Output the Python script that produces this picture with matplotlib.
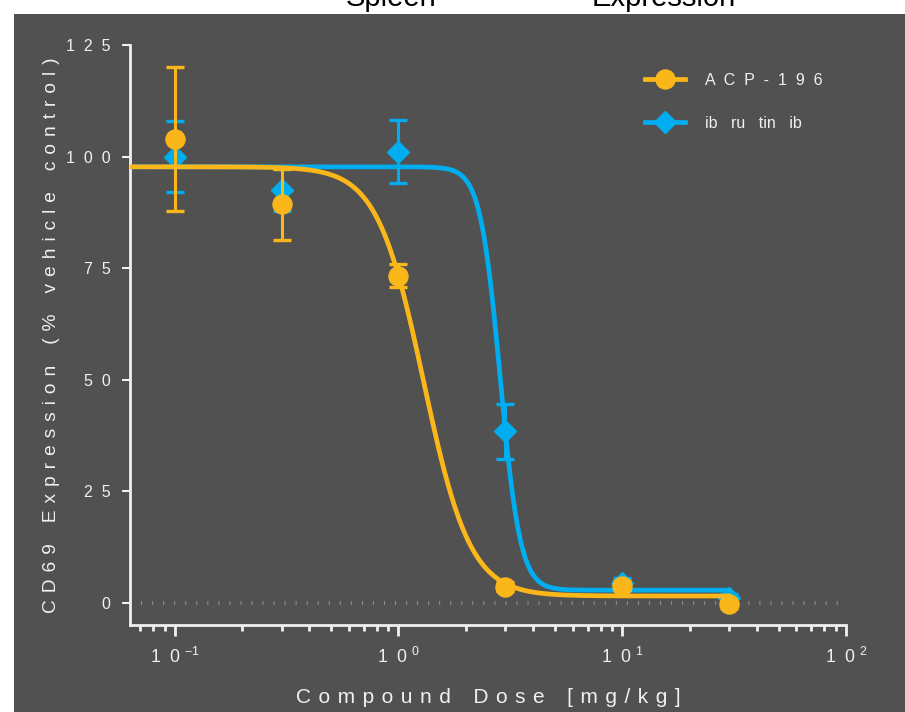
import numpy as np
import matplotlib.pyplot as plt
from matplotlib.lines import Line2D
from matplotlib.patches import Rectangle
from matplotlib.ticker import FixedLocator, FixedFormatter, NullFormatter

plt.rcParams['font.family'] = ['Liberation Sans', 'DejaVu Sans']
plt.rcParams['mathtext.fontset'] = 'custom'
plt.rcParams['mathtext.rm'] = 'Liberation Sans'
plt.rcParams['mathtext.it'] = 'Liberation Sans'

# dose groups (mg/kg) and CD69 readout, mean +/- sem
doses = [0.1, 0.3, 1, 3, 10, 30]
acp_mean = [103.9, 89.3, 73.3, 3.6, 3.8, -0.4]
acp_err = [16.2, 8.0, 2.6, 1.0, 1.0, 0.8]
ibr_mean = [100.0, 92.4, 101.1, 38.4, 4.5, 1.0]
ibr_err = [8.0, 4.7, 7.0, 6.2, 1.0, 1.0]

# 4PL fit parameters: top, bottom, EC50, hill slope
acp_fit = [97.7, 1.5, 1.295, 4.17]
ibr_fit = [97.7, 2.8, 2.85, 9.7]

series_names = ['ACP-196', 'ibrutinib']
y_ticks = [0, 25, 50, 75, 100, 125]
x_decades = [0.1, 1, 10, 100]
x_tick_labels = ['1  0 $^{-1}$', '1  0 $^{0}$', '1  0 $^{1}$', '1  0 $^{2}$']

ORANGE = '#FBB61A'
BLUE = '#00AEEF'
PANEL = '#515151'
TEXT = '#f0f0f0'
XMIN, XMAX = 0.0631, 100


def four_pl(x, top, bottom, ec50, hill):
    return bottom + (top - bottom) / (1 + (x / ec50) ** hill)


def spaced(text, gap=' \u200a'):
    words = text.split(' ')
    return (gap * 3).join(gap.join(w) for w in words)


fig = plt.figure(figsize=(9.05, 7.12), dpi=100)
fig.text(391 / 905, 1 - 6 / 712, 'Spleen', ha='center', va='baseline',
         fontsize=21, color='black', zorder=-1)
fig.text(664 / 905, 1 - 6 / 712, 'Expression', ha='center', va='baseline',
         fontsize=21, color='black', zorder=-1)
fig.add_artist(Rectangle((14 / 905, 0), 1, 698 / 712, transform=fig.transFigure,
                         facecolor=PANEL, edgecolor='none', zorder=0))

ax = fig.add_axes([130 / 905, 87 / 712, 716 / 905, 580 / 712])
ax.set_zorder(1)
ax.patch.set_visible(False)

# dotted baseline at zero
ax.axhline(0, color='#8e8e8e', lw=3, dashes=(0.25, 2.4), zorder=1)

xfit = np.logspace(np.log10(XMIN), np.log10(30), 500)
styles = [(ibr_mean, ibr_err, ibr_fit, BLUE, 'D', 11),
          (acp_mean, acp_err, acp_fit, ORANGE, 'o', 13.7)]
z = 2
for mean, err, fit, color, marker, ms in styles:
    ax.errorbar(doses, mean, yerr=err, fmt=marker, color=color, ms=ms,
                elinewidth=2.2, capsize=6.5, capthick=2.4, zorder=z + 1)
    ax.plot(xfit, four_pl(xfit, *fit), color=color, lw=3.4, zorder=z)
    z += 2

ax.set_xscale('log')
ax.set_xlim(XMIN, XMAX)
ax.set_ylim(-5, 125)

ax.xaxis.set_major_locator(FixedLocator(x_decades))
ax.xaxis.set_major_formatter(FixedFormatter(x_tick_labels))
minor = [m * d for d in [0.01, 0.1, 1, 10] for m in range(2, 10)]
ax.xaxis.set_minor_locator(FixedLocator([v for v in minor if XMIN <= v <= XMAX]))
ax.xaxis.set_minor_formatter(NullFormatter())
ax.set_yticks(y_ticks)
ax.set_yticklabels(['  '.join(str(t)) for t in y_ticks])

for side in ['top', 'right']:
    ax.spines[side].set_visible(False)
for side in ['left', 'bottom']:
    ax.spines[side].set_color(TEXT)
    ax.spines[side].set_linewidth(2)

ax.tick_params(axis='x', which='major', length=8, width=2, color=TEXT,
               labelcolor=TEXT, labelsize=12.7, pad=8)
ax.tick_params(axis='x', which='minor', length=4.5, width=2, color=TEXT)
ax.tick_params(axis='y', length=6, width=1.5, color=TEXT,
               labelcolor=TEXT, labelsize=11.5, pad=8)

ax.set_xlabel(spaced('Compound Dose [mg/kg]'), fontsize=15, color=TEXT, labelpad=15)
ax.set_ylabel(spaced('CD69 Expression (% vehicle control)'), fontsize=13.8,
              color=TEXT, labelpad=4)

handles = [Line2D([], [], color=ORANGE, lw=3.4, marker='o', ms=13.7),
           Line2D([], [], color=BLUE, lw=3.4, marker='D', ms=11)]
labels = ['  '.join(series_names[0]), 'ib   ru   tin   ib']
ax.legend(handles, labels, loc='upper left', bbox_to_anchor=(0.719, 0.952),
          frameon=False, fontsize=11.5, labelcolor=TEXT, handlelength=2.5,
          handletextpad=1.3, labelspacing=1.75, borderpad=0, borderaxespad=0)

fig.savefig('out.png', dpi=100)
